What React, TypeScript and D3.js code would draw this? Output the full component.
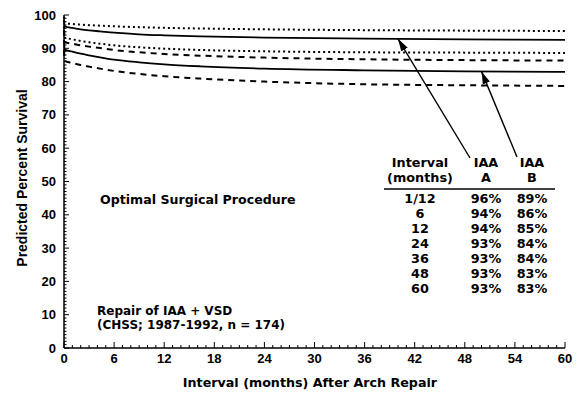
import React from "react";
import * as d3 from "d3";

// months after arch repair
const months = [0, 1 / 12, 1, 2, 3, 4.3, 6, 9, 12, 16.3, 24, 36, 48, 60];
// predicted survival, IAA A (solid) and its confidence limits (dotted)
const survA = [98.5, 96.6, 96.1, 95.7, 95.4, 95.1, 94.7, 94.2, 93.9, 93.6, 93.2, 92.9, 92.7, 92.5];
const upperA = [99.5, 97.5, 97.3, 97.1, 96.95, 96.8, 96.6, 96.35, 96.15, 95.95, 95.7, 95.45, 95.3, 95.2];
const lowerA = [96.5, 93.3, 92.7, 92.2, 91.8, 91.4, 90.9, 90.3, 89.9, 89.5, 89.1, 88.8, 88.7, 88.6];
// IAA B (solid) and its limits (dashed)
const survB = [92.5, 89.6, 89.0, 88.4, 87.9, 87.3, 86.6, 85.8, 85.2, 84.6, 83.9, 83.4, 83.1, 82.9];
const upperB = [95.5, 91.8, 91.4, 90.9, 90.5, 90.1, 89.5, 88.8, 88.3, 87.8, 87.2, 86.7, 86.45, 86.3];
const lowerB = [89.5, 86.2, 85.6, 85.0, 84.5, 83.9, 83.2, 82.3, 81.6, 80.9, 80.0, 79.2, 78.9, 78.7];

const xTicks = [0, 6, 12, 18, 24, 30, 36, 42, 48, 54, 60];
const yTicks = [0, 10, 20, 30, 40, 50, 60, 70, 80, 90, 100];

const tableIntervals = ["1/12", "6", "12", "24", "36", "48", "60"];
const tableA = ["96%", "94%", "94%", "93%", "93%", "93%", "93%"];
const tableB = ["89%", "86%", "85%", "84%", "84%", "83%", "83%"];

const W = 580;
const H = 399;
const FONT = "'Liberation Sans', Arial, sans-serif";
const WIDE = "'DejaVu Sans', Verdana, sans-serif";

export default function App() {
  const x = d3.scaleLinear().domain([0, 60]).range([64, 565]);
  const y = d3.scaleLinear().domain([0, 100]).range([348, 15]);

  const line = d3
    .line<number>()
    .x((_, i) => x(months[i]))
    .y((d) => y(d))
    .curve(d3.curveMonotoneX);

  const curves = [
    { vals: upperA, dash: "2,3" },
    { vals: survA, dash: null },
    { vals: lowerA, dash: "2,3" },
    { vals: upperB, dash: "6,5" },
    { vals: survB, dash: null },
    { vals: lowerB, dash: "6,5" },
  ];

  const valAt = (vals: number[], m: number) => d3.scaleLinear().domain(months).range(vals)(m);

  // arrows from the table headers to the curves
  const arrows = [
    { from: [470, 158], to: [x(40), y(valAt(survA, 40))] },
    { from: [517, 157], to: [x(50), y(valAt(survB, 50))] },
  ];

  const minorX = d3.range(0, 61, 1);
  const minorY = d3.range(0, 101, 1);

  const rowY = (i: number) => 203 + i * 15;

  return (
    <svg width={W} height={H} style={{ position: "absolute", left: 0, top: 0, background: "#fff" }}>
      <defs>
        <marker id="ah" viewBox="0 0 10 10" refX="10" refY="5" markerWidth="9" markerHeight="9" orient="auto">
          <path d="M0,2 L10,5 L0,8 Z" fill="#000" />
        </marker>
      </defs>
      <g fontFamily={FONT} fontWeight={700} fill="#000">
        {/* axes */}
        <line x1={x(0)} x2={x(60)} y1={y(0)} y2={y(0)} stroke="#000" strokeWidth={1.5} />
        <line x1={x(0)} x2={x(0)} y1={y(0)} y2={y(100)} stroke="#000" strokeWidth={1.5} />
        {minorX.map((m) => (
          <line key={"mx" + m} x1={x(m)} x2={x(m)} y1={y(0)} y2={y(0) - (m % 6 === 0 ? 6 : 3)} stroke="#000" strokeWidth={1} />
        ))}
        {minorY.map((v) => (
          <line key={"my" + v} x1={x(0)} x2={x(0) + (v % 10 === 0 ? 5 : 2.5)} y1={y(v)} y2={y(v)} stroke="#000" strokeWidth={1} />
        ))}
        {xTicks.map((t) => (
          <text key={"xt" + t} x={x(t)} y={363} textAnchor="middle" fontSize={13}>
            {t}
          </text>
        ))}
        {yTicks.map((t) => (
          <text key={"yt" + t} x={56} y={y(t) + 4.5} textAnchor="end" fontSize={13}>
            {t}
          </text>
        ))}
        <text x={310} y={387} textAnchor="middle" fontSize={12.7} fontFamily={WIDE}>
          Interval (months) After Arch Repair
        </text>
        <text transform={`translate(27,178) rotate(-90)`} textAnchor="middle" fontSize={14}>
          Predicted Percent Survival
        </text>

        {/* curves */}
        {curves.map((c, i) => (
          <path
            key={"c" + i}
            d={line(c.vals) || ""}
            fill="none"
            stroke="#000"
            strokeWidth={c.dash ? 2 : 1.8}
            strokeDasharray={c.dash || undefined}
          />
        ))}

        {/* arrows */}
        {arrows.map((a, i) => (
          <line key={"a" + i} x1={a.from[0]} y1={a.from[1]} x2={a.to[0]} y2={a.to[1]} stroke="#000" strokeWidth={1.4} markerEnd="url(#ah)" />
        ))}

        {/* annotations */}
        <g fontFamily={WIDE}>
          <text x={100} y={204} fontSize={12.6}>Optimal Surgical Procedure</text>
          <text x={97} y={314.5} fontSize={12}>Repair of IAA + VSD</text>
          <text x={97} y={328.5} fontSize={12}>(CHSS; 1987-1992, n = 174)</text>
        </g>

        {/* table */}
        <g fontSize={12.8} fontFamily={WIDE} textAnchor="middle">
          <text x={420} y={167}>Interval</text>
          <text x={420} y={182}>(months)</text>
          <text x={486} y={167}>IAA</text>
          <text x={486} y={182}>A</text>
          <text x={532} y={167}>IAA</text>
          <text x={532} y={182}>B</text>
          <line x1={384} x2={555} y1={189} y2={189} stroke="#000" strokeWidth={1.3} />
          {tableIntervals.map((t, i) => (
            <g key={"r" + i}>
              <text x={420} y={rowY(i)}>{t}</text>
              <text x={486} y={rowY(i)}>{tableA[i]}</text>
              <text x={532} y={rowY(i)}>{tableB[i]}</text>
            </g>
          ))}
        </g>
      </g>
    </svg>
  );
}
